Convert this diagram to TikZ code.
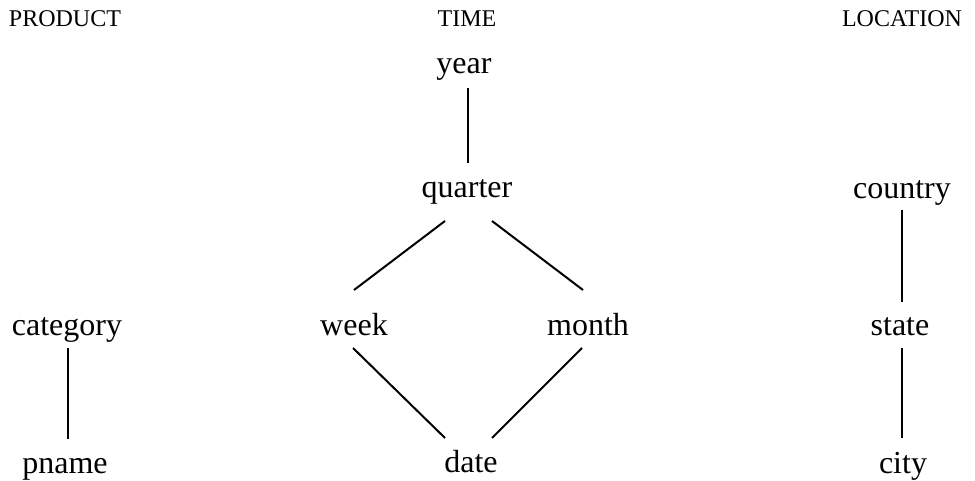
\documentclass[tikz,border=0pt]{standalone}
\usepackage{fontspec}
\setmainfont{Liberation Serif}
\begin{document}
\begin{tikzpicture}[x=0.75pt,y=-0.75pt,
  lbl/.style={anchor=base,inner sep=0pt,font=\fontsize{24pt}{28pt}\selectfont},
  hdr/.style={anchor=base,inner sep=0pt,font=\fontsize{18pt}{22pt}\selectfont},
  conn/.style={line width=1.5pt}]
\useasboundingbox (0,0) rectangle (975,481);
% headings
\node[hdr] (hp) at (65,27) {PRODUCT};
\node[hdr] (ht) at (467,27) {TIME};
\node[hdr] (hl) at (902,27) {LOCATION};
% labels
\node[lbl] (year) at (464,74) {year};
\node[lbl] (quarter) at (467,198) {quarter};
\node[lbl] (country) at (902,199) {country};
\node[lbl] (category) at (67,335) {category};
\node[lbl] (week) at (354,335) {week};
\node[lbl] (month) at (588,335) {month};
\node[lbl] (state) at (900,335) {state};
\node[lbl] (pname) at (65,473) {pname};
\node[lbl] (date) at (471,472) {date};
\node[lbl] (city) at (903,473) {city};
% connectors
\draw[conn] ([shift={(4,14)}]year.base) -- ([shift={(1,-35)}]quarter.base);
\draw[conn] ([shift={(-22,23)}]quarter.base) -- ([shift={(0,-45)}]week.base);
\draw[conn] ([shift={(25,23)}]quarter.base) -- ([shift={(-5,-45)}]month.base);
\draw[conn] ([shift={(-1,13)}]week.base) -- ([shift={(-26,-34)}]date.base);
\draw[conn] ([shift={(-6,13)}]month.base) -- ([shift={(21,-34)}]date.base);
\draw[conn] ([shift={(1,13)}]category.base) -- ([shift={(3,-34)}]pname.base);
\draw[conn] ([shift={(0,11)}]country.base) -- ([shift={(2,-33)}]state.base);
\draw[conn] ([shift={(2,13)}]state.base) -- ([shift={(-1,-35)}]city.base);
\end{tikzpicture}
\end{document}
